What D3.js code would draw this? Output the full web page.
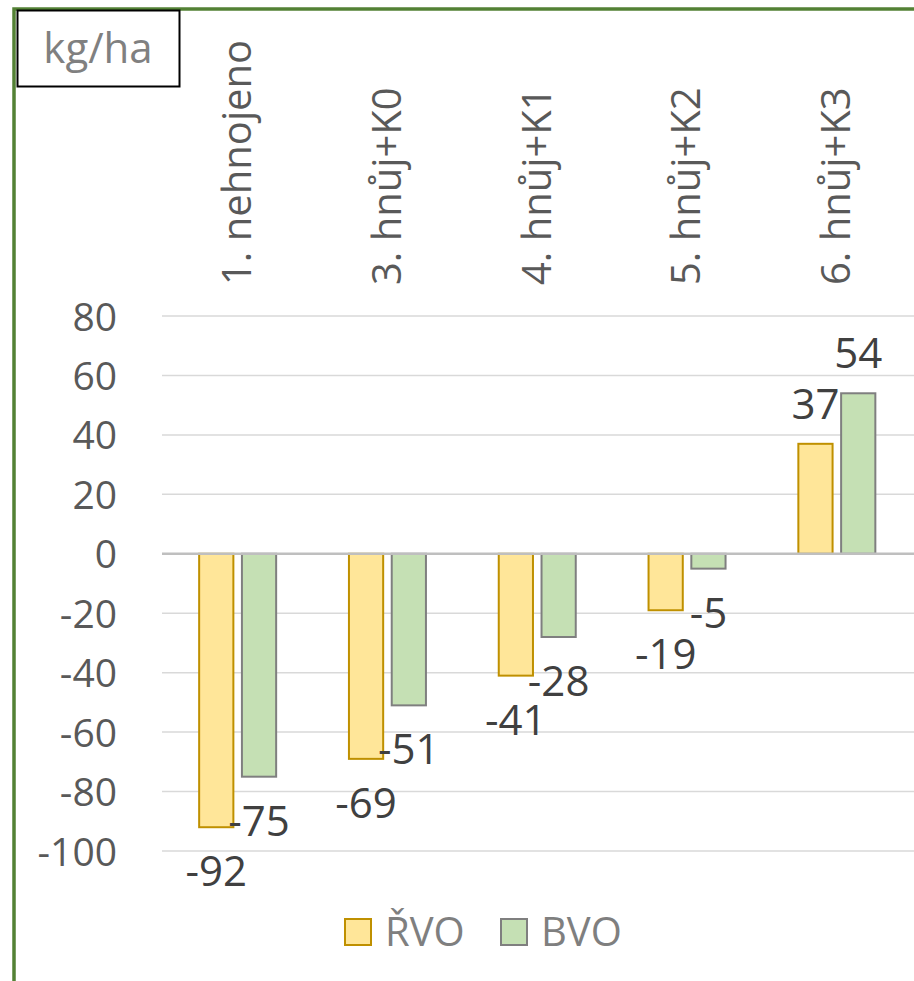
<!DOCTYPE html>
<html>
<head>
<meta charset="utf-8">
<script src="https://cdn.jsdelivr.net/npm/d3@7"></script>
<style>
  html, body { margin: 0; padding: 0; background: #fff; }
  svg { display: block; font-family: "Open Sans", "Noto Sans", sans-serif; }
</style>
</head>
<body>
<svg id="chart" width="914" height="981"></svg>
<script>
// Bilance draslíku podle varianty hnojení
const categories = ["1. nehnojeno", "3. hnůj+K0", "4. hnůj+K1", "5. hnůj+K2", "6. hnůj+K3"];
const seriesNames = ["ŘVO", "BVO"];
const rvoValues = [-92, -69, -41, -19, 37];
const bvoValues = [-75, -51, -28, -5, 54];
const yTicks = [-100, -80, -60, -40, -20, 0, 20, 40, 60, 80];
const unitLabel = "kg/ha";

const fills = { "ŘVO": "#FFE699", "BVO": "#C5E0B4" };
const strokes = { "ŘVO": "#BF9000", "BVO": "#7F7F7F" };

const rows = categories.map((c, i) => ({ cat: c, "ŘVO": rvoValues[i], "BVO": bvoValues[i] }));

// plain hyphen for negative numbers
const fmt = d => String(d);

const svg = d3.select("#chart");

// outer chart-area border
svg.append("rect")
  .attr("x", 14).attr("y", 9)
  .attr("width", 940).attr("height", 1000)
  .attr("fill", "none").attr("stroke", "#538135").attr("stroke-width", 3.5);

const plot = { left: 162, right: 911, top: 316, bottom: 851 };

const y = d3.scaleLinear().domain([-100, 80]).range([plot.bottom, plot.top]);
const x0 = d3.scaleBand().domain(categories).range([plot.left, plot.right]).padding(0);
const bw = x0.bandwidth();
const x1 = d3.scaleBand().domain(seriesNames)
  .range([bw * 0.248, bw * 0.762]).paddingInner(0.2).paddingOuter(0);

// gridlines
svg.append("g").selectAll("line")
  .data(yTicks.filter(t => t !== 0))
  .join("line")
  .attr("x1", plot.left).attr("x2", 914)
  .attr("y1", d => y(d)).attr("y2", d => y(d))
  .attr("stroke", "#D9D9D9").attr("stroke-width", 1.5);

// y axis labels
const yAxis = d3.axisLeft(y).tickValues(yTicks).tickSize(0).tickPadding(0).tickFormat(fmt);
const yg = svg.append("g").attr("transform", `translate(117,0)`).call(yAxis);
yg.select(".domain").remove();
yg.selectAll("text")
  .attr("fill", "#595959").attr("font-size", 39).attr("dy", "0.36em")
  .attr("font-family", "'Open Sans', sans-serif");

// bars
const groups = svg.append("g").selectAll("g")
  .data(rows).join("g")
  .attr("transform", d => `translate(${x0(d.cat)},0)`);

groups.selectAll("rect")
  .data(d => seriesNames.map(s => ({ s, v: d[s] })))
  .join("rect")
  .attr("x", d => x1(d.s))
  .attr("width", x1.bandwidth())
  .attr("y", d => Math.min(y(d.v), y(0)))
  .attr("height", d => Math.abs(y(d.v) - y(0)))
  .attr("fill", d => fills[d.s])
  .attr("stroke", d => strokes[d.s])
  .attr("stroke-width", 2);

// zero line
svg.append("line")
  .attr("x1", plot.left).attr("x2", 914)
  .attr("y1", y(0)).attr("y2", y(0))
  .attr("stroke", "#BFBFBF").attr("stroke-width", 2.5);

// data labels
groups.selectAll("text.val")
  .data(d => seriesNames.map(s => ({ s, v: d[s] })))
  .join("text")
  .attr("class", "val")
  .attr("x", d => x1(d.s) + x1.bandwidth() / 2)
  .attr("y", d => d.v < 0 ? y(d.v) + 59 : y(d.v) - 25)
  .attr("text-anchor", "middle")
  .attr("font-size", 42)
  .attr("fill", "#404040")
  .text(d => fmt(d.v));

// category labels (rotated, above the plot)
svg.append("g").selectAll("text")
  .data(categories).join("text")
  .attr("transform", d => `translate(${x0(d) + bw / 2 + 14},285) rotate(-90)`)
  .attr("text-anchor", "start")
  .attr("font-size", 40)
  .attr("fill", "#595959")
  .text(d => d);

// unit box
svg.append("rect")
  .attr("x", 17.5).attr("y", 10.5).attr("width", 162).attr("height", 76)
  .attr("fill", "#fff").attr("stroke", "#000").attr("stroke-width", 2);
svg.append("text")
  .attr("x", 98).attr("y", 63)
  .attr("text-anchor", "middle")
  .attr("font-size", 42).attr("fill", "#808080")
  .text(unitLabel);

// legend
const legendPos = [344, 500];
const lg = svg.append("g").selectAll("g")
  .data(seriesNames).join("g")
  .attr("transform", (d, i) => `translate(${legendPos[i]},918)`);
lg.append("rect")
  .attr("x", 1).attr("y", 1)
  .attr("width", 26).attr("height", 26)
  .attr("fill", d => fills[d]).attr("stroke", d => strokes[d]).attr("stroke-width", 2);
lg.append("text")
  .attr("x", 41).attr("y", 28)
  .attr("font-size", 40).attr("fill", "#7F7F7F")
  .text(d => d);
</script>
</body>
</html>
